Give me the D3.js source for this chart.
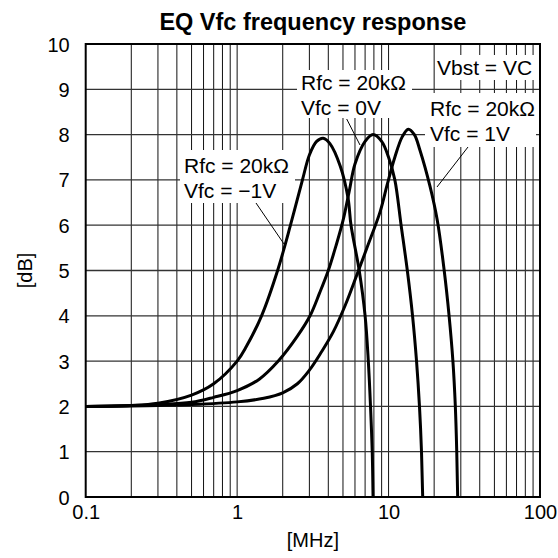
<!DOCTYPE html>
<html>
<head>
<meta charset="utf-8">
<script src="https://cdn.jsdelivr.net/npm/d3@7"></script>
<style>
  html, body { margin: 0; padding: 0; background: #fff; }
  text { font-family: "Liberation Sans", Arial, sans-serif; fill: #000; }
</style>
</head>
<body>
<script>
// ---------- data ----------
const title = "EQ Vfc frequency response";
const xLabel = "[MHz]";
const yLabel = "[dB]";
const xTickValues = [0.1, 1, 10, 100];
const xTickLabels = ["0.1", "1", "10", "100"];
const yTickValues = [0, 1, 2, 3, 4, 5, 6, 7, 8, 9, 10];

// Vfc = -1V
const freqA = [0.1, 0.2, 0.3, 0.5, 0.7, 1.0, 1.15, 1.45, 1.85, 2.25, 2.7, 3.0, 3.35, 3.7, 4.1, 4.8, 5.4, 5.65, 6.4, 7.0, 7.35, 7.6, 7.8, 7.9, 8.0];
const dbA   = [2.0, 2.02, 2.07, 2.25, 2.5, 3.0, 3.32, 4.0, 5.0, 6.0, 7.0, 7.55, 7.85, 7.92, 7.8, 7.3, 6.6, 6.0, 5.0, 4.0, 3.0, 2.0, 1.0, 0.0, -1.0];
// Vfc = 0V
const freqB = [0.1, 0.2, 0.3, 0.5, 0.7, 1.0, 1.4, 1.87, 2.5, 3.03, 3.5, 4.0, 4.5, 5.0, 5.5, 6.0, 7.0, 7.9, 9.0, 10.0, 11.0, 12.1, 13.3, 14.4, 15.3, 16.0, 16.5, 16.8, 17.0];
const dbB   = [2.0, 2.02, 2.04, 2.09, 2.2, 2.35, 2.6, 3.0, 3.55, 4.0, 4.5, 5.0, 5.55, 6.1, 6.75, 7.35, 7.85, 8.0, 7.85, 7.5, 7.0, 6.0, 5.0, 4.0, 3.0, 2.0, 1.0, 0.0, -1.0];
// Vfc = 1V
const freqC = [0.1, 0.2, 0.3, 0.5, 1.0, 1.5, 2.0, 2.5, 3.0, 3.6, 4.32, 5.2, 6.17, 7.2, 8.8, 9.8, 11.0, 12.3, 13.5, 14.8, 16.1, 18.8, 21.0, 23.3, 25.1, 26.6, 27.6, 28.2, 28.6, 28.9];
const dbC   = [2.0, 2.01, 2.02, 2.04, 2.1, 2.18, 2.3, 2.5, 2.8, 3.2, 3.65, 4.25, 4.9, 5.5, 6.3, 6.9, 7.5, 7.95, 8.12, 8.0, 7.66, 6.85, 6.1, 5.0, 4.0, 3.0, 2.0, 1.0, 0.0, -1.0];

const series = [
  {name: "Vfc = -1V", f: freqA, v: dbA},
  {name: "Vfc = 0V",  f: freqB, v: dbB},
  {name: "Vfc = 1V",  f: freqC, v: dbC}
];

// ---------- layout ----------
const W = 558, H = 558;
const m = {left: 85.7, right: 558 - 540, top: 44, bottom: 558 - 497};
const pw = W - m.left - m.right, ph = H - m.top - m.bottom;

const svg = d3.select("body").append("svg").attr("width", W).attr("height", H);
const x = d3.scaleLog().domain([0.1, 100]).range([m.left, m.left + pw]);
const y = d3.scaleLinear().domain([0, 10]).range([m.top + ph, m.top]);

svg.append("defs").append("clipPath").attr("id", "clip")
  .append("rect").attr("x", m.left).attr("y", m.top).attr("width", pw).attr("height", ph);

// grid
const minor = [];
for (let d = 0.1; d < 100; d *= 10) for (let k = 1; k <= 9; k++) minor.push(+(d * k).toPrecision(3));
const grid = svg.append("g").attr("stroke", "#111").attr("stroke-width", 1);
grid.selectAll("line.v").data(minor.filter(v => v > 0.1)).enter().append("line")
  .attr("x1", d => x(d)).attr("x2", d => x(d)).attr("y1", m.top).attr("y2", m.top + ph);
grid.selectAll("line.h").data(yTickValues.slice(1, -1)).enter().append("line")
  .attr("stroke", "#333").attr("stroke-width", 1.3)
  .attr("x1", m.left).attr("x2", m.left + pw).attr("y1", d => y(d)).attr("y2", d => y(d));

// axes (tick labels)
const yAxis = d3.axisLeft(y).tickValues(yTickValues).tickSize(0).tickPadding(16).tickFormat(d3.format("d"));
const gy = svg.append("g").attr("transform", `translate(${m.left},0)`).call(yAxis);
gy.select(".domain").remove();
gy.selectAll("text").attr("font-size", 20).attr("font-family", "Liberation Sans, Arial, sans-serif").attr("dy", "0.35em");

const xAxis = d3.axisBottom(x).tickValues(xTickValues).tickSize(0).tickPadding(8)
  .tickFormat((d, i) => xTickLabels[i]);
const gx = svg.append("g").attr("transform", `translate(0,${m.top + ph})`).call(xAxis);
gx.select(".domain").remove();
gx.selectAll("text").attr("font-size", 20).attr("font-family", "Liberation Sans, Arial, sans-serif");

// annotation boxes
const boxes = [
  {x0: 435, x1: 539, y0: 55, y1: 80, lines: ["Vbst = VC"], tx: 437, ty: 75},
  {x0: 297, x1: 412, y0: 70, y1: 118, lines: ["Rfc = 20k\u03A9", "Vfc = 0V"], tx: 301, ty: 90},
  {x0: 425, x1: 536, y0: 93, y1: 147, lines: ["Rfc = 20k\u03A9", "Vfc = 1V"], tx: 430, ty: 116},
  {x0: 180, x1: 295, y0: 150, y1: 203, lines: ["Rfc = 20k\u03A9", "Vfc = \u22121V"], tx: 184, ty: 173}
];
svg.append("g").selectAll("rect").data(boxes).enter().append("rect")
  .attr("x", d => d.x0).attr("y", d => d.y0).attr("width", d => d.x1 - d.x0).attr("height", d => d.y1 - d.y0)
  .attr("fill", "#fff");

// leaders
const leaders = [
  {x1: 346.7, y1: 119, x2: 360, y2: 145},
  {x1: 468, y1: 147, x2: 437, y2: 187},
  {x1: 256, y1: 203, x2: 284, y2: 244}
];
svg.append("g").attr("stroke", "#000").attr("stroke-width", 1).selectAll("line").data(leaders).enter().append("line")
  .attr("x1", d => d.x1).attr("y1", d => d.y1).attr("x2", d => d.x2).attr("y2", d => d.y2);

// curves
const line = d3.line().x(d => x(d[0])).y(d => y(d[1])).curve(d3.curveCatmullRom.alpha(0.5));
svg.append("g").attr("clip-path", "url(#clip)").selectAll("path").data(series).enter().append("path")
  .attr("d", s => line(s.f.map((f, i) => [f, s.v[i]])))
  .attr("fill", "none").attr("stroke", "#000").attr("stroke-width", 3);

// frame
svg.append("rect").attr("x", m.left).attr("y", m.top).attr("width", pw).attr("height", ph)
  .attr("fill", "none").attr("stroke", "#000").attr("stroke-width", 2);

// annotation text
boxes.forEach(b => {
  b.lines.forEach((t, i) => {
    svg.append("text").attr("x", b.tx).attr("y", b.ty + i * 25).attr("font-size", 21).text(t);
  });
});

// title and axis labels
svg.append("text").attr("x", m.left + pw / 2).attr("y", 30).attr("text-anchor", "middle")
  .attr("font-size", 23.5).attr("font-weight", "bold").text(title);
svg.append("text").attr("x", m.left + pw / 2).attr("y", 547).attr("text-anchor", "middle")
  .attr("font-size", 20).text(xLabel);
svg.append("text").attr("transform", `translate(32,${m.top + ph / 2}) rotate(-90)`).attr("text-anchor", "middle")
  .attr("font-size", 20).text(yLabel);
</script>
</body>
</html>
